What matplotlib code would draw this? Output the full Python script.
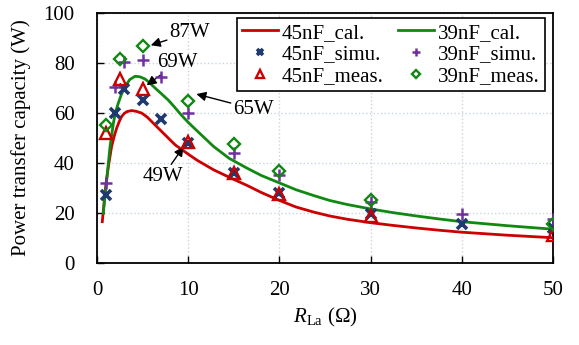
import numpy as np
import matplotlib
matplotlib.use('Agg')
import matplotlib.pyplot as plt

plt.rcParams['font.family'] = ['Liberation Serif', 'DejaVu Serif']
plt.rcParams['mathtext.fontset'] = 'custom'
plt.rcParams['mathtext.it'] = 'Liberation Serif:italic'
plt.rcParams['mathtext.rm'] = 'Liberation Serif'

# calculated curves
x45_cal = [0.58, 0.75, 0.88, 1.05, 1.25, 1.6, 1.9, 2.16, 2.45, 2.7, 3.0, 3.3, 3.8, 4.3, 4.9,
           5.5, 6.0, 7.1, 8.57, 10.0, 11.0, 12.8, 15.0, 16.45, 18.0, 20.0, 21.8, 23.8, 25.5,
           27.4, 30.0, 32.5, 35.0, 37.5, 40.0, 45.0, 50.0]
y45_cal = [16.5, 22.8, 27.9, 33.5, 38.5, 46.5, 50.8, 53.9, 56.6, 58.5, 59.8, 60.5, 60.9, 60.6, 59.9,
           58.3, 56.5, 52.5, 47.2, 43.5, 41.0, 37.2, 33.4, 31.0, 28.2, 25.0, 22.4, 20.3, 18.8,
           17.5, 16.1, 15.0, 14.0, 13.1, 12.3, 11.1, 10.1]
x39_cal = [0.69, 0.88, 1.07, 1.25, 1.43, 1.8, 2.05, 2.34, 2.7, 3.08, 3.6, 4.18, 4.7, 5.27, 5.8,
           6.37, 7.1, 7.84, 8.5, 9.2, 10.0, 10.77, 12.8, 14.5, 16.45, 18.0, 20.0, 21.8, 23.8,
           25.5, 27.4, 30.0, 32.5, 35.0, 37.5, 40.0, 45.0, 50.0]
y39_cal = [19.9, 27.0, 33.2, 40.0, 46.5, 55.9, 60.5, 63.9, 67.6, 70.5, 73.3, 74.6, 74.4, 73.5, 71.9,
           69.9, 67.5, 65.0, 62.3, 59.3, 56.2, 53.5, 46.5, 41.8, 37.9, 35.0, 32.0, 29.3, 26.9,
           25.0, 23.4, 21.6, 20.1, 18.8, 17.6, 16.5, 14.9, 13.5]

# simulation
x45_simu = [1, 2, 3, 5, 7, 10, 15, 20, 30, 40, 50]
y45_simu = [27, 60, 69.5, 65, 57.5, 48, 36, 28, 19.5, 15.5, 14]
x39_simu = [1, 2, 3, 5, 7, 10, 15, 20, 30, 40, 50]
y39_simu = [32, 70.3, 80.4, 81.2, 74.3, 60, 44, 35, 24.5, 19.5, 17.5]

# measurement
x45_meas = [1, 2.5, 5, 10, 15, 20, 30, 50]
y45_meas = [52, 73.5, 69.5, 48.5, 36, 27.5, 18.8, 11.2]
x39_meas = [1, 2.5, 5, 10, 15, 20, 30, 50]
y39_meas = [55, 81.5, 86.5, 64.8, 47.5, 36.8, 25.2, 15.7]

red = '#cc0000'
green = '#118811'
navy = '#1f3a6e'
purple = '#7030a0'

fig = plt.figure(figsize=(5.79, 3.45), dpi=100)
ax = fig.add_axes([0.1675, 0.2377, 0.7875, 0.7255])

ax.plot(x45_cal, y45_cal, color=red, lw=2, label='45nF_cal.', zorder=3)
ax.plot(x45_simu, y45_simu, ls='none', marker='x', color=navy, ms=7, mew=2.6,
        label='45nF_simu.', zorder=4)
ax.plot(x45_meas, y45_meas, ls='none', marker='^', mfc='none', mec=red, mew=1.7, ms=8.5,
        label='45nF_meas.', zorder=5)
ax.plot(x39_cal, y39_cal, color=green, lw=2, label='39nF_cal.', zorder=3)
ax.plot(x39_simu, y39_simu, ls='none', marker='+', color=purple, mew=1.8, ms=8.5,
        label='39nF_simu.', zorder=4)
ax.plot(x39_meas, y39_meas, ls='none', marker='D', mfc='none', mec=green, mew=1.7, ms=6.5,
        label='39nF_meas.', zorder=5)

ax.set_xlim(0, 50)
ax.set_ylim(0, 100)
ax.set_xticks([0, 10, 20, 30, 40, 50])
ax.set_yticks([0, 20, 40, 60, 80, 100])
ax.tick_params(direction='in', labelsize=15, length=5, width=1)
ax.tick_params(axis='x', pad=13)
ax.tick_params(axis='y', pad=16)
for s in ax.spines.values():
    s.set_linewidth(1.3)
ax.grid(True, ls=':', color='#c8d4e0', lw=1)
ax.set_axisbelow(True)

ax.set_ylabel('Power transfer capacity (W)', fontsize=15, labelpad=9)
ax.set_xlabel(r'$R$' + '$_{\\mathrm{La}}$ (\u03a9)', fontsize=15, labelpad=4)

arrow = dict(arrowstyle='-|>', color='black', lw=1, mutation_scale=14, shrinkA=0, shrinkB=0)
ax.annotate('87W', xy=(5.9, 87), xytext=(10.2, 92), fontsize=15, ha='center', va='center',
            arrowprops=arrow)
ax.annotate('69W', xy=(5.45, 71), xytext=(8.8, 80), fontsize=15, ha='center', va='center',
            arrowprops=arrow)
ax.annotate('65W', xy=(10.9, 67.5), xytext=(17.2, 61.5), fontsize=15, ha='center', va='center',
            arrowprops=arrow)
ax.annotate('49W', xy=(9.5, 46.5), xytext=(7.2, 34.5), fontsize=15, ha='center', va='center',
            arrowprops=arrow)

h, l = ax.get_legend_handles_labels()
leg = ax.legend(h, l, ncol=2, loc='upper right', bbox_to_anchor=(0.982, 0.979), fontsize=15,
                frameon=True, fancybox=False, edgecolor='black', framealpha=1,
                borderpad=0.25, labelspacing=0.1, handlelength=1.7, handletextpad=0.2,
                columnspacing=0.7, borderaxespad=0, markerscale=0.6)
leg.get_frame().set_linewidth(1.2)

fig.savefig('out.png', dpi=100)
